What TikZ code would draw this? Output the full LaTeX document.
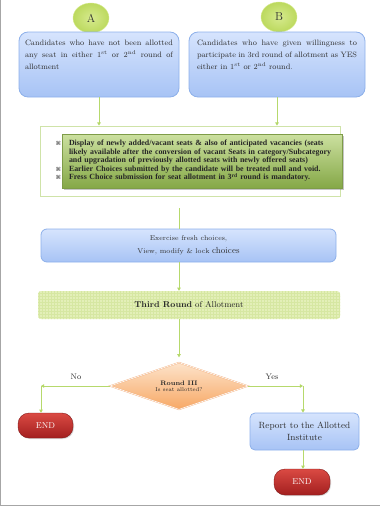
\documentclass[tikz,border=0pt]{standalone}
\usepackage{fontspec}
\usepackage{tikz}
\usetikzlibrary{shapes.geometric,arrows.meta,positioning,calc,shadows,patterns}
\newfontfamily\timesfont{Liberation Serif}
\newfontfamily\symfont{DejaVu Sans}
\definecolor{bluetop}{HTML}{D6E4FD}
\definecolor{bluebot}{HTML}{A7C3F5}
\definecolor{blueline}{HTML}{8DB0EA}
\definecolor{greentop}{HTML}{CCE0A0}
\definecolor{greenbot}{HTML}{85A847}
\definecolor{greenline}{HTML}{7E9C48}
\definecolor{frameline}{HTML}{CFE3A8}
\definecolor{thirdfill}{HTML}{E3EFB8}
\definecolor{thirdgrid}{HTML}{D6E7A2}
\definecolor{linkline}{HTML}{B6D96C}
\definecolor{tipfill}{HTML}{9CC83A}
\definecolor{ballin}{HTML}{D6EA8E}
\definecolor{ballout}{HTML}{BCD95E}
\definecolor{decotop}{HTML}{FDE3CA}
\definecolor{decobot}{HTML}{F7A865}
\definecolor{decoline}{HTML}{F3B07E}
\definecolor{endtop}{HTML}{DA4A43}
\definecolor{endbot}{HTML}{A31F1F}
\definecolor{pageline}{HTML}{A6A6A6}
\definecolor{txt}{HTML}{303030}
\newcommand{\rulemark}{\leavevmode\llap{{\symfont\fontsize{5.5}{6}\selectfont\color{black!65}⌘}\hspace{8pt}}}

\begin{document}
\begin{tikzpicture}[x=1pt,y=-1pt,
    ball/.style={ellipse, draw=ballin, inner color=ballin, outer color=ballout,
                 minimum width=36pt, minimum height=30pt, text=txt,
                 font=\fontsize{11.5}{12}\selectfont},
    bluebox/.style={rectangle, draw=blueline, top color=bluetop, bottom color=bluebot,
                    rounded corners=9pt, text=txt, line width=0.8pt},
    frame/.style={rectangle, draw=frameline, fill=white, line width=0.8pt},
    greenbox/.style={rectangle, draw=greenline, top color=greentop, bottom color=greenbot,
                     drop shadow={shadow xshift=2pt, shadow yshift=-2pt, fill=black!45},
                     text width=266pt, align=left, inner xsep=7pt,
                     font=\timesfont\bfseries\fontsize{7.9}{8.5}\selectfont, text=black!85},
    thirdbox/.style={rectangle, fill=thirdfill, rounded corners=3pt,
                     postaction={pattern=grid, pattern color=thirdgrid},
                     font=\fontsize{8.5}{10}\selectfont, text=black!85},
    decision/.style={diamond, draw=decoline, double=white, double distance=0.6pt,
                     top color=decotop, bottom color=decobot, aspect=2.9, inner sep=1pt,
                     minimum width=138pt, minimum height=47pt, align=center, text=black!85,
                     font=\fontsize{6.5}{7}\selectfont},
    endbox/.style={rectangle, rounded corners=11pt, top color=endtop, bottom color=endbot,
                   draw=endbot!80!black, text=white, font=\fontsize{8.5}{10}\selectfont,
                   drop shadow={shadow xshift=1pt, shadow yshift=-1pt, fill=black!30}},
    link/.style={draw=linkline, line width=1pt},
    arrow/.style={link, -{Triangle[length=3.2pt,width=3.6pt,fill=tipfill]}},
    answer/.style={font=\fontsize{8}{9}\selectfont, text=txt},
]
\useasboundingbox (0,0) rectangle (380,506);
\draw[pageline, line width=0.8pt] (0.5,0) -- (0.5,505.5) -- (380,505.5);

% top: two candidate groups
\node[ball] (ballA) at (91,18) {A};
\node[ball] (ballB) at (279,17) {B};

\node[bluebox, inner xsep=6pt, inner ysep=6pt] (boxA) at (99,64.5)
  {\parbox[t][53pt][t]{148pt}{\vspace*{2pt}\fontsize{7.8}{12}\selectfont
   Candidates who have not been allotted\linebreak any seat in either
   1\textsuperscript{st} or 2\textsuperscript{nd} round of\linebreak allotment}};
\node[bluebox, inner xsep=8pt, inner ysep=6pt] (boxB) at (277,64.5)
  {\parbox[t][53pt][t]{160pt}{\vspace*{2pt}\fontsize{7.8}{12}\selectfont
   Candidates who have given willingness to\linebreak participate in 3rd round of
   allotment as YES\linebreak either in 1\textsuperscript{st} or
   2\textsuperscript{nd} round.}};

% instructions
\node[frame, minimum width=300pt, minimum height=70pt] (frame) at (190,161) {};
\node[greenbox, minimum height=54pt] (rules) at (202,161)
  {\rulemark Display of newly added/vacant seats \& also of anticipated vacancies (seats\\
   likely available after the conversion of vacant Seats in category/Subcategory\\
   and upgradation of previously allotted seats with newly offered seats)\\
   \rulemark Earlier Choices submitted by the candidate will be treated null and void.\\
   \rulemark Fress Choice submission for seat allotment in 3\textsuperscript{rd} round is mandatory.};

\node[bluebox, rounded corners=6pt, minimum width=295pt, minimum height=33pt,
      align=center, font=\fontsize{7}{13}\selectfont] (choices) at (188.5,245.5)
  {Exercise fresh choices,\\ View, modify \& lock {\fontsize{8.8}{13}\selectfont choices}};

\node[thirdbox, minimum width=302pt, minimum height=28pt] (third) at (189,305)
  {\textbf{Third Round} of Allotment};

\node[decision] (check) at (179,386)
  {\textbf{Round III}\\[-1pt]{\fontsize{5.5}{6}\selectfont Is seat allotted?}};

\node[endbox, minimum width=55pt, minimum height=25pt] (endNo) at (45.5,425.5) {END};
\node[bluebox, rounded corners=5pt, minimum width=109pt, minimum height=37pt,
      align=center, font=\fontsize{9}{12.5}\selectfont] (report) at (304.5,431.5)
  {Report to the Allotted\\Institute};
\node[endbox, minimum width=56pt, minimum height=26pt] (endYes) at (302,482) {END};

\node[answer] (no) at (76,377) {No};
\node[answer] (yes) at (272,377) {Yes};

% connectors
\draw[arrow] (boxA.south) -- (boxA.south |- frame.north);
\draw[arrow] (boxB.south) -- (boxB.south |- frame.north);
\coordinate (gap) at (179.5,208);
\draw[link] (gap) -- (gap |- choices.north);
\draw[arrow] (choices.south -| check.north) -- (third.north -| check.north);
\draw[arrow, shorten >=5pt] (third.south -| check.north) -- (check.north);
\coordinate (nobend) at (41,386);
\coordinate (yesbend) at (303,386);
\draw[arrow] (check.west) -- (nobend);
\draw[arrow] (nobend) -- (nobend |- endNo.north);
\draw[arrow] (check.east) -- (yesbend);
\draw[arrow] (yesbend) -- (yesbend |- report.north);
\draw[arrow] (report.south -| yesbend) -- (endYes.north -| yesbend);
\end{tikzpicture}
\end{document}
